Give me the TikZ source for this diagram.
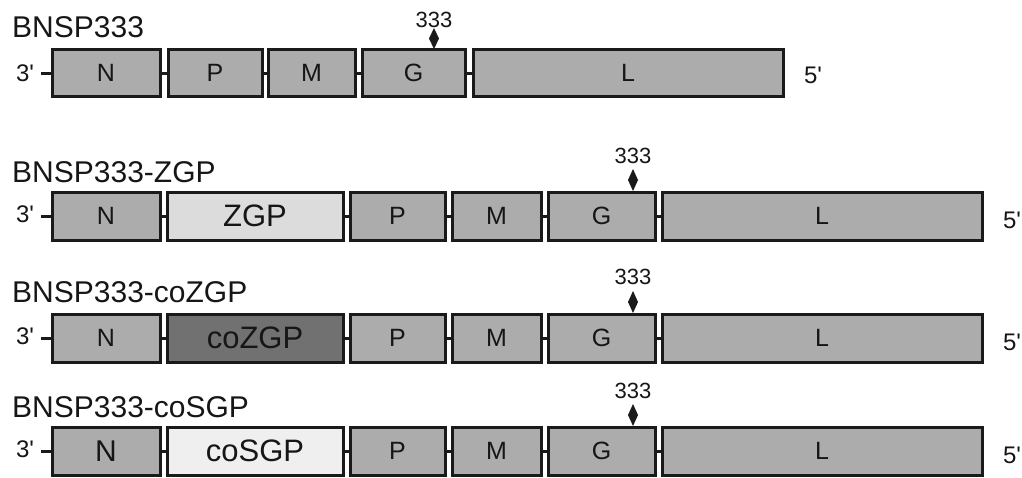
\documentclass[tikz,border=0pt]{standalone}
\usepackage{fontspec}
\setmainfont{Liberation Sans}
\definecolor{gene}{HTML}{ACACAC}
\definecolor{edge}{HTML}{1A1A1A}
\definecolor{txt}{HTML}{161616}
\definecolor{zgp}{HTML}{DCDCDC}
\definecolor{cozgp}{HTML}{717171}
\definecolor{cosgp}{HTML}{EFEFEF}
\tikzset{
  box/.style={draw=edge, line width=3pt, fill=gene, inner sep=0pt, minimum height=47pt, text=txt, font=\fontsize{25}{25}\selectfont},
  insert/.style={box, font=\fontsize{31}{31}\selectfont},
  link/.style={draw=edge, line width=3pt},
  title/.style={anchor=base west, inner sep=0pt, text=txt, font=\fontsize{30}{30}\selectfont},
  endlab/.style={inner sep=0pt, text=txt, font=\fontsize{24}{24}\selectfont},
  sitelab/.style={anchor=base, inner sep=0pt, text=txt, font=\fontsize{22}{22}\selectfont},
  sitemark/.style={fill=edge}
}
\begin{document}
\begin{tikzpicture}[x=1pt,y=-1pt]
\useasboundingbox (0,0) rectangle (1022,477);

% ---------- Row 1: BNSP333
\node[title] (title1) at (12,37) {BNSP333};
\node[box, minimum width=108pt] (n1) at (106,73) {N};
\node[box, minimum width=94pt] (p1) at (215,73) {P};
\node[box, minimum width=87pt] (m1) at (311.5,73) {M};
\node[box, minimum width=103pt] (g1) at (413.5,73) {G};
\node[box, minimum width=310pt] (l1) at (628,73) {L};
\node[endlab] (tp1) at (25,73) {3\textquotesingle};
\node[endlab] (fp1) at (813,75) {5\textquotesingle};
\coordinate (s1) at (41,73);
\draw[link] (s1) -- (n1.west);
\draw[link] (n1.east) -- (p1.west);
\draw[link] (p1.east) -- (m1.west);
\draw[link] (m1.east) -- (g1.west);
\draw[link] (g1.east) -- (l1.west);
\coordinate (d1) at (434,49);
\fill[sitemark] (d1) -- ++(5,-10.5) -- ++(-5,-10.5) -- ++(-5,10.5) -- cycle;
\node[sitelab] (site1) at (434,27) {333};

% ---------- Rows 2-4
\foreach \r/\cy/\ins/\col/\ttl/\nfs/\ty/\sy in {
  2/216/ZGP/zgp/BNSP333-ZGP/25/182/163,
  3/338/coZGP/cozgp/BNSP333-coZGP/25/302/284,
  4/451/coSGP/cosgp/BNSP333-coSGP/30/417/398}{
  \node[title] (title\r) at (12,\ty) {\ttl};
  \node[box, minimum width=108pt, minimum height=48pt, font=\fontsize{\nfs}{\nfs}\selectfont] (n\r) at (106,\cy) {N};
  \node[insert, fill=\col, minimum width=176pt, minimum height=48pt] (x\r) at (255,\cy) {\ins};
  \node[box, minimum width=95pt, minimum height=48pt] (p\r) at (397.5,\cy) {P};
  \node[box, minimum width=89pt, minimum height=48pt] (m\r) at (496.5,\cy) {M};
  \node[box, minimum width=107pt, minimum height=48pt] (g\r) at (601.5,\cy) {G};
  \node[box, minimum width=320pt, minimum height=48pt] (l\r) at (822,\cy) {L};
  \node[endlab] (tp\r) at (25,\cy-2) {3\textquotesingle};
  \node[endlab] (fp\r) at (1012,\cy+4) {5\textquotesingle};
  \coordinate (s\r) at (41,\cy);
  \draw[link] (s\r) -- (n\r.west);
  \draw[link] (n\r.east) -- (x\r.west);
  \draw[link] (x\r.east) -- (p\r.west);
  \draw[link] (p\r.east) -- (m\r.west);
  \draw[link] (m\r.east) -- (g\r.west);
  \draw[link] (g\r.east) -- (l\r.west);
  \coordinate (d\r) at (633,\cy-25);
  \fill[sitemark] (d\r) -- ++(5,-11) -- ++(-5,-11) -- ++(-5,11) -- cycle;
  \node[sitelab] (site\r) at (633,\sy) {333};
}
\end{tikzpicture}
\end{document}
